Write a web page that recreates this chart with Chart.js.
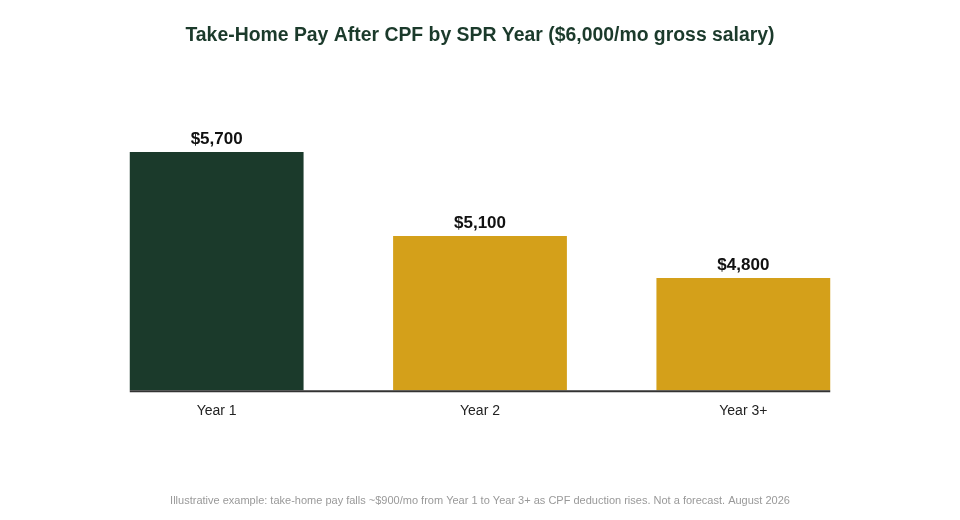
<!DOCTYPE html>
<html>
<head>
<meta charset="utf-8">
<title>Take-Home Pay After CPF</title>
<script src="https://cdn.jsdelivr.net/npm/chart.js@4/dist/chart.umd.min.js"></script>
<style>
    html, body { margin: 0; padding: 0; background: #ffffff; }
    #wrap { width: 960px; height: 520px; position: relative; }
</style>
</head>
<body>
<div id="wrap"><canvas id="payChart"></canvas></div>
<script>
// Chart data
const years = ['Year 1', 'Year 2', 'Year 3+'];
const takeHome = [5700, 5100, 4800];
const barColors = ['#1b3a2b', '#d4a01a', '#d4a01a'];

const titleText = 'Take-Home Pay After CPF by SPR Year ($6,000/mo gross salary)';
const footerText = 'Illustrative example: take-home pay falls ~$900/mo from Year 1 to Year 3+ as CPF deduction rises. Not a forecast. August 2026';

const fontName = '"Liberation Sans", Arial, sans-serif';

function money(v) {
    return '$' + v.toLocaleString('en-US');
}

// Title, footer, value labels and the baseline under the bars
const decorations = {
    id: 'decorations',
    afterDatasetsDraw(chart) {
        const ctx = chart.ctx;
        const bars = chart.getDatasetMeta(0).data;
        ctx.save();

        // value labels
        ctx.fillStyle = '#111111';
        ctx.font = 'bold 17px ' + fontName;
        ctx.textAlign = 'center';
        ctx.textBaseline = 'middle';
        bars.forEach((bar, i) => {
            ctx.fillText(money(takeHome[i]), bar.x, bar.y - 13);
        });

        // baseline only under the bars
        const first = bars[0], last = bars[bars.length - 1];
        ctx.strokeStyle = '#333333';
        ctx.lineWidth = 2;
        ctx.beginPath();
        ctx.moveTo(first.x - first.width / 2, chart.chartArea.bottom + 1);
        ctx.lineTo(last.x + last.width / 2, chart.chartArea.bottom + 1);
        ctx.stroke();

        // title
        ctx.fillStyle = '#1b3a2b';
        ctx.font = 'bold 19.4px ' + fontName;
        ctx.fillText(titleText, chart.width / 2, 36);

        // footer note
        ctx.fillStyle = '#999999';
        ctx.font = '11px ' + fontName;
        ctx.fillText(footerText, chart.width / 2, 501);
        ctx.restore();
    }
};

const ctx = document.getElementById('payChart').getContext('2d');

const payChart = new Chart(ctx, {
    type: 'bar',
    data: {
        labels: years,
        datasets: [{
            data: takeHome,
            backgroundColor: barColors,
            borderWidth: 0,
            categoryPercentage: 1.0,
            barPercentage: 0.66,
        }],
    },
    options: {
        responsive: true,
        maintainAspectRatio: false,
        animation: false,
        devicePixelRatio: 1,
        layout: {
            padding: { top: 110, left: 85, right: 85, bottom: 87 },
        },
        plugins: {
            legend: { display: false },
            title: { display: false },
            tooltip: { enabled: false },
        },
        scales: {
            x: {
                grid: { display: false, drawTicks: false },
                border: { display: false },
                ticks: {
                    color: '#222222',
                    font: { family: fontName, size: 14 },
                    padding: 13,
                },
            },
            y: {
                display: false,
                min: 4000,
                max: 6000,
            },
        },
    },
    plugins: [decorations],
});
</script>
</body>
</html>
